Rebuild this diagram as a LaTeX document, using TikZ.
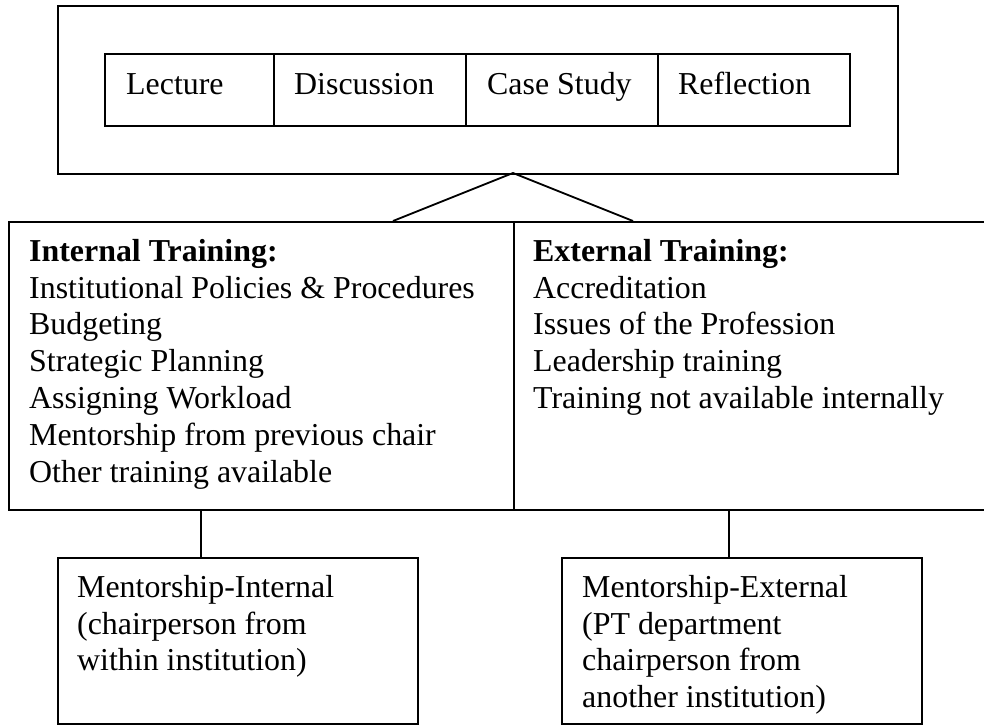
\documentclass[tikz,border=0pt]{standalone}
\usepackage{fontspec}
\setmainfont{Liberation Serif}
\begin{document}
\begin{tikzpicture}[x=1pt,y=-1pt,
  box/.style={draw, line width=1.8pt, rectangle, anchor=north west, inner sep=0pt},
  txt/.style={anchor=base west, inner sep=0pt, font=\fontsize{31.9}{36.8}\selectfont},
  mtxt/.style={anchor=north west, inner sep=0pt, align=left, font=\fontsize{31.9}{36.8}\selectfont},
  conn/.style={line width=1.8pt}]
\useasboundingbox (0,0) rectangle (984,725);
\clip (0,0) rectangle (984,725);
% top outer box
\node[box, minimum width=840pt, minimum height=168pt] (top) at (57,5) {};
% inner row
\node[box, minimum width=169pt, minimum height=72pt] (lec) at (104,53) {};
\node[box, minimum width=192pt, minimum height=72pt] (dis) at (273,53) {};
\node[box, minimum width=192pt, minimum height=72pt] (cas) at (465,53) {};
\node[box, minimum width=192pt, minimum height=72pt] (ref) at (657,53) {};
\node[txt] (lect) at (126,94) {Lecture};
\node[txt] (dist) at (294,94) {Discussion};
\node[txt] (cast) at (487,94) {Case Study};
\node[txt] (reft) at (678,94) {Reflection};
% middle boxes
\node[box, minimum width=505pt, minimum height=288pt] (int) at (8,221) {};
\node[box, minimum width=480pt, minimum height=288pt] (ext) at (513,221) {};
\node[mtxt] (intt) at (29,239) {\textbf{Internal Training:}\\Institutional Policies \& Procedures\\Budgeting\\Strategic Planning\\Assigning Workload\\Mentorship from previous chair\\Other training available};
\node[mtxt] (extt) at (533,239) {\textbf{External Training:}\\Accreditation\\Issues of the Profession\\Leadership training\\Training not available internally};
% bottom boxes
\node[box, minimum width=360pt, minimum height=166pt] (mi) at (57,557) {};
\node[box, minimum width=360pt, minimum height=166pt] (me) at (561,557) {};
\node[mtxt] (mit) at (77,575) {Mentorship-Internal\\(chairperson from\\within institution)};
\node[mtxt] (met) at (582,575) {Mentorship-External\\(PT department\\chairperson from\\another institution)};
% connectors
\coordinate (apex) at (513,173);
\coordinate (lf) at (393,221);
\coordinate (rf) at (633,221);
\draw[conn] (lf) -- (apex) -- (rf);
\coordinate (c1) at (201,509);
\coordinate (c2) at (729,509);
\draw[conn] (c1) -- (c1 |- mi.north);
\draw[conn] (c2) -- (c2 |- me.north);
\end{tikzpicture}
\end{document}
